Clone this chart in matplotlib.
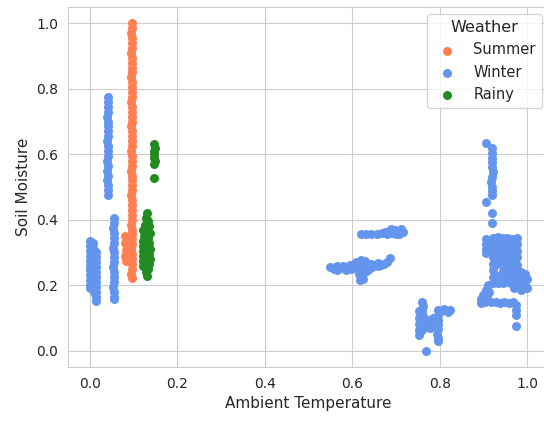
import matplotlib
matplotlib.use("Agg")
import matplotlib.pyplot as plt
import numpy as np
import seaborn as sns

sns.set_style("whitegrid")

# values, (ambient temperature, soil moisture)
summer_points = [
    (0.096, 1.000), (0.096, 0.985), (0.095, 0.970), (0.096, 0.955), (0.097, 0.940),
    (0.096, 0.925), (0.095, 0.910), (0.096, 0.895), (0.096, 0.880), (0.097, 0.865),
    (0.096, 0.850), (0.095, 0.835), (0.096, 0.820), (0.096, 0.805), (0.097, 0.790),
    (0.096, 0.775), (0.095, 0.760), (0.096, 0.745), (0.097, 0.730), (0.096, 0.715),
    (0.096, 0.700), (0.095, 0.685), (0.096, 0.670), (0.097, 0.655), (0.096, 0.640),
    (0.096, 0.625), (0.095, 0.610), (0.096, 0.595), (0.097, 0.580), (0.096, 0.565),
    (0.095, 0.550), (0.096, 0.535), (0.096, 0.520), (0.097, 0.505), (0.096, 0.490),
    (0.095, 0.475), (0.096, 0.460), (0.096, 0.445), (0.097, 0.430), (0.096, 0.415),
    (0.096, 0.400), (0.095, 0.385), (0.096, 0.370), (0.097, 0.355), (0.096, 0.340),
    (0.096, 0.325), (0.095, 0.310), (0.096, 0.295), (0.096, 0.280), (0.097, 0.265),
    (0.096, 0.250), (0.095, 0.235), (0.096, 0.222),
    (0.081, 0.350), (0.080, 0.328), (0.082, 0.308), (0.081, 0.290), (0.083, 0.275),
]

# winter, left group of three strips
winter_left = [
    (0.000, 0.335), (0.000, 0.320), (0.000, 0.305), (0.000, 0.290), (0.000, 0.275),
    (0.000, 0.260), (0.000, 0.245), (0.000, 0.230), (0.000, 0.215), (0.000, 0.200),
    (0.001, 0.190),
    (0.008, 0.330), (0.008, 0.315), (0.008, 0.300), (0.008, 0.285), (0.008, 0.270),
    (0.008, 0.255), (0.008, 0.240), (0.008, 0.225), (0.008, 0.210), (0.008, 0.195),
    (0.009, 0.180),
    (0.015, 0.300), (0.015, 0.285), (0.015, 0.270), (0.015, 0.255), (0.015, 0.240),
    (0.015, 0.225), (0.015, 0.210), (0.015, 0.195), (0.015, 0.180), (0.014, 0.165),
    (0.015, 0.152),
    (0.041, 0.775), (0.041, 0.760), (0.041, 0.745), (0.041, 0.730), (0.040, 0.715),
    (0.041, 0.700), (0.041, 0.685), (0.041, 0.670), (0.041, 0.655), (0.040, 0.640),
    (0.041, 0.625), (0.041, 0.610), (0.041, 0.595), (0.040, 0.580), (0.041, 0.565),
    (0.039, 0.550), (0.041, 0.535), (0.040, 0.520), (0.041, 0.505), (0.041, 0.490),
    (0.041, 0.477),
    (0.055, 0.405), (0.055, 0.390), (0.054, 0.375), (0.055, 0.360), (0.055, 0.345),
    (0.055, 0.330), (0.054, 0.315), (0.055, 0.300), (0.055, 0.285), (0.055, 0.270),
    (0.054, 0.255), (0.055, 0.240), (0.055, 0.225), (0.055, 0.210), (0.054, 0.195),
    (0.055, 0.180), (0.055, 0.165), (0.055, 0.157),
]

# winter, middle bands
winter_mid = [
    (0.620, 0.355), (0.632, 0.356), (0.644, 0.355), (0.656, 0.357), (0.668, 0.358),
    (0.675, 0.364), (0.683, 0.367), (0.690, 0.360), (0.697, 0.370), (0.704, 0.364),
    (0.711, 0.371), (0.716, 0.362), (0.680, 0.356), (0.700, 0.357), (0.708, 0.356),
    (0.688, 0.372),
    (0.550, 0.255), (0.558, 0.250), (0.565, 0.258), (0.572, 0.252), (0.580, 0.260),
    (0.588, 0.255), (0.595, 0.262), (0.602, 0.258), (0.565, 0.245), (0.585, 0.247),
    (0.598, 0.248),
    (0.608, 0.270), (0.615, 0.265), (0.620, 0.278), (0.625, 0.268), (0.630, 0.275),
    (0.612, 0.250), (0.620, 0.245), (0.628, 0.255), (0.615, 0.235), (0.622, 0.228),
    (0.630, 0.240), (0.618, 0.215), (0.625, 0.220), (0.635, 0.262), (0.635, 0.245),
    (0.642, 0.265), (0.650, 0.262), (0.658, 0.268), (0.665, 0.262), (0.672, 0.266),
    (0.680, 0.270), (0.687, 0.283), (0.645, 0.255), (0.660, 0.258),
]

# winter, low group near 0.78
winter_low = [
    (0.760, 0.150), (0.761, 0.135), (0.760, 0.120), (0.762, 0.105), (0.760, 0.090),
    (0.761, 0.075), (0.760, 0.062), (0.753, 0.120), (0.752, 0.100), (0.753, 0.080),
    (0.752, 0.062), (0.752, 0.049), (0.768, 0.000), (0.772, 0.095), (0.778, 0.085),
    (0.784, 0.100), (0.778, 0.070),
    (0.796, 0.125), (0.796, 0.110), (0.796, 0.095), (0.796, 0.080), (0.796, 0.065),
    (0.795, 0.050), (0.796, 0.038), (0.796, 0.028),
    (0.804, 0.122), (0.811, 0.127), (0.818, 0.118), (0.823, 0.124),
]

# winter, right group
winter_right = [
    (0.906, 0.635), (0.920, 0.620), (0.920, 0.605), (0.920, 0.590), (0.919, 0.575),
    (0.920, 0.560), (0.921, 0.545), (0.920, 0.530), (0.918, 0.515), (0.920, 0.500),
    (0.920, 0.487), (0.920, 0.477), (0.906, 0.453), (0.920, 0.420), (0.920, 0.390),
    (0.922, 0.345), (0.933, 0.347), (0.944, 0.343), (0.955, 0.345), (0.966, 0.342), (0.977, 0.344),
    (0.923, 0.325), (0.934, 0.327), (0.944, 0.324), (0.956, 0.326), (0.966, 0.323), (0.976, 0.325),
    (0.922, 0.305), (0.933, 0.306), (0.945, 0.304), (0.955, 0.307), (0.967, 0.305), (0.977, 0.303),
    (0.921, 0.285), (0.934, 0.287), (0.944, 0.284), (0.956, 0.286), (0.966, 0.283), (0.976, 0.285),
    (0.922, 0.265), (0.932, 0.266), (0.945, 0.264), (0.955, 0.267), (0.967, 0.265), (0.977, 0.263),
    (0.923, 0.245), (0.944, 0.244), (0.956, 0.246), (0.966, 0.243), (0.976, 0.245),
    (0.922, 0.225), (0.933, 0.227), (0.944, 0.224), (0.955, 0.226), (0.966, 0.223), (0.977, 0.225),
    (0.921, 0.207), (0.934, 0.208), (0.945, 0.206), (0.955, 0.209), (0.967, 0.207), (0.976, 0.206),
    (0.906, 0.340), (0.905, 0.325), (0.906, 0.310), (0.906, 0.298),
    (0.985, 0.240), (0.995, 0.235), (1.000, 0.220), (0.990, 0.215), (0.980, 0.200),
    (0.995, 0.200), (0.970, 0.190), (0.985, 0.185), (1.000, 0.192), (0.965, 0.205),
    (0.975, 0.225),
    (0.910, 0.200), (0.905, 0.185), (0.898, 0.170), (0.894, 0.158), (0.908, 0.165),
    (0.913, 0.180), (0.894, 0.145), (0.903, 0.150),
    (0.918, 0.150), (0.928, 0.148), (0.938, 0.147), (0.948, 0.150), (0.958, 0.146),
    (0.968, 0.148),
    (0.974, 0.140), (0.974, 0.125), (0.974, 0.110), (0.974, 0.076),
]

rainy_points = [
    (0.130, 0.420), (0.128, 0.405), (0.132, 0.395), (0.125, 0.385), (0.135, 0.380),
    (0.122, 0.370), (0.130, 0.365), (0.137, 0.360), (0.123, 0.350), (0.133, 0.345),
    (0.121, 0.335), (0.128, 0.335), (0.136, 0.330), (0.122, 0.320), (0.130, 0.318),
    (0.137, 0.310), (0.121, 0.305), (0.127, 0.300), (0.135, 0.295), (0.122, 0.290),
    (0.130, 0.285), (0.137, 0.280), (0.121, 0.275), (0.127, 0.270), (0.135, 0.265),
    (0.121, 0.258), (0.126, 0.255), (0.133, 0.250), (0.129, 0.240), (0.131, 0.228),
    (0.147, 0.630), (0.148, 0.620), (0.147, 0.610), (0.146, 0.600), (0.147, 0.590),
    (0.148, 0.580), (0.147, 0.570), (0.147, 0.526),
]

winter_points = winter_left + winter_mid + winter_low + winter_right

series = [
    ("Summer", summer_points, "#FF7F50"),
    ("Winter", winter_points, "#6495ED"),
    ("Rainy", rainy_points, "#228B22"),
]

fig = plt.figure(figsize=(5.44, 4.21), dpi=100)
# axes runs a little past the right edge of the picture, like the reference
ax = fig.add_axes([68 / 544, 54 / 421, 481 / 544, 360 / 421])

for name, pts, col in series:
    arr = np.array(pts)
    ax.scatter(arr[:, 0], arr[:, 1], s=42, color=col, linewidths=0, label=name)

ax.set_xlim(-0.05, 1.05)
ax.set_ylim(-0.05, 1.05)
ax.set_xticks([0.0, 0.2, 0.4, 0.6, 0.8, 1.0])
ax.set_yticks([0.0, 0.2, 0.4, 0.6, 0.8, 1.0])
ax.tick_params(labelsize=10)
ax.set_xlabel("Ambient Temperature", fontsize=11)
ax.set_ylabel("Soil Moisture", fontsize=11)
ax.legend(title="Weather", loc="upper right", fontsize=10.5, title_fontsize=11.5)

fig.savefig("out.png", dpi=100)
